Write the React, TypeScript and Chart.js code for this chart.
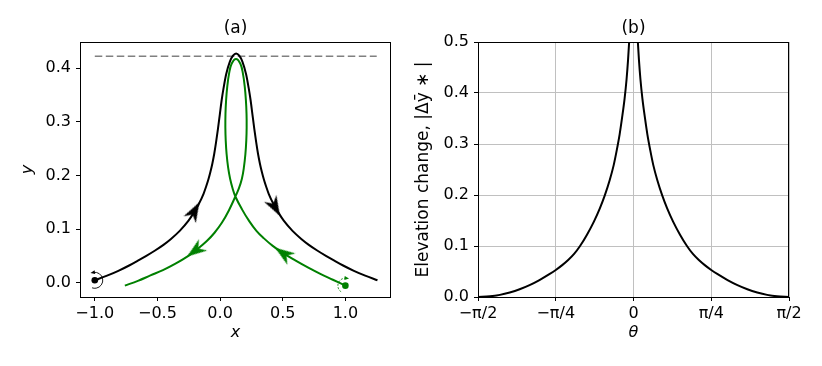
import React, { useEffect, useRef } from "react";
import { Chart, registerables } from "chart.js";

Chart.register(...registerables);

// ---------- Panel (a) data ----------
const blackX = [
  -1.0, -0.902, -0.812, -0.722, -0.652, -0.592, -0.522, -0.452, -0.392, -0.322, -0.252, -0.212, -0.172, -0.132, -0.112, -0.093, -0.077, -0.062, -0.047, -0.032, -0.017, -0.002, 0.013, 0.028, 0.048, 0.078, 0.103, 0.128,
  0.153, 0.178, 0.208, 0.228, 0.243, 0.258, 0.273, 0.288, 0.303, 0.318, 0.333, 0.349, 0.368, 0.388, 0.428, 0.468, 0.508, 0.578, 0.648, 0.708, 0.778, 0.848, 0.908, 0.978, 1.068, 1.158, 1.256,
];
const blackY = [
  0.005, 0.0136, 0.0226, 0.033, 0.042, 0.050, 0.060, 0.071, 0.082, 0.097, 0.116, 0.130, 0.146, 0.166, 0.179, 0.193, 0.207, 0.222, 0.240, 0.262, 0.287, 0.314, 0.341, 0.363, 0.388, 0.412, 0.423, 0.427,
  0.423, 0.412, 0.388, 0.363, 0.341, 0.314, 0.287, 0.262, 0.240, 0.222, 0.207, 0.193, 0.179, 0.166, 0.146, 0.130, 0.116, 0.097, 0.082, 0.071, 0.060, 0.050, 0.042, 0.033, 0.0226, 0.0136, 0.005,
];

const greenX = [
  1.0, 0.90, 0.80, 0.70, 0.60, 0.50, 0.42, 0.35, 0.29, 0.23, 0.175, 0.122,
  0.100, 0.080, 0.064, 0.052, 0.045, 0.042, 0.043, 0.048, 0.057, 0.072, 0.092, 0.127, 0.162, 0.182, 0.197, 0.206, 0.211, 0.212, 0.209, 0.202, 0.190, 0.174, 0.150, 0.122,
  0.07, 0.014, -0.046, -0.106, -0.176, -0.256, -0.356, -0.456, -0.556, -0.656, -0.76,
];
const greenY = [
  -0.005, 0.006, 0.017, 0.029, 0.042, 0.056, 0.069, 0.083, 0.097, 0.116, 0.137, 0.161,
  0.176, 0.194, 0.215, 0.240, 0.265, 0.290, 0.315, 0.340, 0.365, 0.390, 0.408, 0.417, 0.408, 0.390, 0.365, 0.340, 0.315, 0.290, 0.265, 0.240, 0.215, 0.194, 0.176, 0.161,
  0.135, 0.112, 0.093, 0.078, 0.064, 0.050, 0.036, 0.024, 0.014, 0.004, -0.005,
];

const refLineX = [-1.0, 1.25];
const refLineY = [0.422, 0.422];

const blackDotX = [-1.0];
const blackDotY = [0.005];
const greenDotX = [1.0];
const greenDotY = [-0.005];

const blackArrowX = [-0.204, 0.439];
const blackArrowY = [0.134, 0.141];
const greenArrowX = [-0.2, 0.504];
const greenArrowY = [0.060, 0.055];

const xTicksA = [-1.0, -0.5, 0.0, 0.5, 1.0];
const xTickLabelsA = ["\u22121.0", "\u22120.5", "0.0", "0.5", "1.0"];
const yTicksA = [0.0, 0.1, 0.2, 0.3, 0.4];
const yTickLabelsA = ["0.0", "0.1", "0.2", "0.3", "0.4"];

// ---------- Panel (b) data ----------
const thetaB = [
  -1.5708, -1.45, -1.35, -1.25, -1.15, -1.05, -0.95, -0.85, -0.785, -0.72, -0.66, -0.60, -0.54, -0.47, -0.40, -0.34, -0.29, -0.24, -0.20, -0.17, -0.14, -0.115, -0.09, -0.07, -0.055, -0.044, -0.038,
  0.038, 0.044, 0.055, 0.07, 0.09, 0.115, 0.14, 0.17, 0.20, 0.24, 0.29, 0.34, 0.40, 0.47, 0.54, 0.60, 0.66, 0.72, 0.785, 0.85, 0.95, 1.05, 1.15, 1.25, 1.35, 1.45, 1.5708,
];
const elevB = [
  0.0, 0.0013, 0.0042, 0.0089, 0.0152, 0.0233, 0.0332, 0.0447, 0.053, 0.0625, 0.0725, 0.0845, 0.100, 0.1222, 0.1479, 0.1739, 0.1993, 0.2295, 0.2586, 0.287, 0.319, 0.352, 0.389, 0.427, 0.465, 0.500, 0.523,
  0.523, 0.500, 0.465, 0.427, 0.389, 0.352, 0.319, 0.287, 0.2586, 0.2295, 0.1993, 0.1739, 0.1479, 0.1222, 0.100, 0.0845, 0.0725, 0.0625, 0.053, 0.0447, 0.0332, 0.0233, 0.0152, 0.0089, 0.0042, 0.0013, 0.0,
];
const xTicksB = [-Math.PI / 2, -Math.PI / 4, 0, Math.PI / 4, Math.PI / 2];
const xTickLabelsB = ["\u2212\u03c0/2", "\u2212\u03c0/4", "0", "\u03c0/4", "\u03c0/2"];
const yTicksB = [0.0, 0.1, 0.2, 0.3, 0.4, 0.5];
const yTickLabelsB = ["0.0", "0.1", "0.2", "0.3", "0.4", "0.5"];

// ---------- styling ----------
const FAMILY = "'DejaVu Sans', sans-serif";
const tickFont = { family: FAMILY, size: 16 };
const GREEN = "#008000";

const pts = (xs: number[], ys: number[]) => xs.map((x, i) => ({ x, y: ys[i] }));

function makeArrow(color: string) {
  const c = document.createElement("canvas");
  const L = 20, H = 15;
  c.width = L;
  c.height = H;
  const g = c.getContext("2d")!;
  g.fillStyle = color;
  g.beginPath();
  g.moveTo(L, H / 2);
  g.lineTo(0, 0.5);
  g.lineTo(L * 0.3, H / 2);
  g.lineTo(0, H - 0.5);
  g.closePath();
  g.fill();
  return c;
}

const framePlugin = {
  id: "frame",
  afterDraw(chart: any) {
    const { ctx, chartArea } = chart;
    const l = Math.round(chartArea.left), t = Math.round(chartArea.top);
    const r = Math.round(chartArea.right), b = Math.round(chartArea.bottom);
    ctx.save();
    ctx.strokeStyle = "#000";
    ctx.lineWidth = 1;
    ctx.strokeRect(l + 0.5, t + 0.5, r - l - 1, b - t);
    ctx.restore();
  },
};

const DEG = Math.PI / 180;
const spinPlugin = {
  id: "spin",
  afterDatasetsDraw(chart: any, _args: any, opts: any) {
    const items = opts && opts.items;
    if (!items) return;
    const { ctx, scales } = chart;
    for (const s of items) {
      const cx = scales.x.getPixelForValue(s.x) + s.dx;
      const cy = scales.y.getPixelForValue(s.y) + s.dy;
      ctx.save();
      ctx.strokeStyle = s.color;
      ctx.fillStyle = s.color;
      ctx.lineWidth = 0.9;
      if (s.dash) ctx.setLineDash([2, 1.5]);
      ctx.beginPath();
      ctx.arc(cx, cy, s.r, s.a0 * DEG, s.a1 * DEG, false);
      ctx.stroke();
      ctx.setLineDash([]);
      const a = (s.headAtStart ? s.a0 : s.a1) * DEG;
      const px = cx + s.r * Math.cos(a), py = cy + s.r * Math.sin(a);
      let dx = -Math.sin(a), dy = Math.cos(a);
      if (s.headAtStart) { dx = -dx; dy = -dy; }
      const nx = -dy, ny = dx;
      ctx.beginPath();
      ctx.moveTo(px + dx * 3, py + dy * 3);
      ctx.lineTo(px - dx * 1.5 + nx * 2, py - dy * 1.5 + ny * 2);
      ctx.lineTo(px - dx * 1.5 - nx * 2, py - dy * 1.5 - ny * 2);
      ctx.closePath();
      ctx.fill();
      ctx.restore();
    }
  },
};

function xScale(min: number, max: number, ticks: number[], labels: string[], title: string, grid: boolean, titlePad: number) {
  return {
    type: "linear",
    min,
    max,
    afterBuildTicks: (s: any) => { s.ticks = ticks.map((v) => ({ value: v })); },
    afterFit: (s: any) => { s.height = 69; },
    ticks: {
      autoSkip: false,
      maxRotation: 0,
      padding: 3,
      color: "#000",
      font: tickFont,
      callback: (_v: any, i: number) => labels[i],
    },
    grid: {
      display: true,
      drawOnChartArea: grid,
      color: "#c0c0c0",
      lineWidth: 1,
      tickColor: "#000",
      tickLength: 4,
      tickWidth: 1,
    },
    border: { display: false },
    title: {
      display: true,
      text: title,
      color: "#000",
      font: { family: FAMILY, size: 16, style: "italic" },
      padding: { top: 0, bottom: titlePad },
    },
  };
}

function yScale(min: number, max: number, ticks: number[], labels: string[], title: string, italic: boolean, titleSize: number, grid: boolean, width: number, titlePad: number) {
  return {
    type: "linear",
    min,
    max,
    afterBuildTicks: (s: any) => { s.ticks = ticks.map((v) => ({ value: v })); },
    afterFit: (s: any) => { s.width = width; },
    ticks: {
      autoSkip: false,
      padding: 5,
      color: "#000",
      font: tickFont,
      callback: (_v: any, i: number) => labels[i],
    },
    grid: {
      display: true,
      drawOnChartArea: grid,
      color: "#c0c0c0",
      lineWidth: 1,
      tickColor: "#000",
      tickLength: 4,
      tickWidth: 1,
    },
    border: { display: false },
    title: {
      display: true,
      text: title,
      color: "#000",
      font: { family: FAMILY, size: titleSize, style: italic ? "italic" : "normal" },
      padding: { top: titlePad, bottom: 0 },
    },
  };
}

function titleOpts(text: string) {
  return {
    display: true,
    text,
    color: "#000",
    fullSize: false,
    font: { family: FAMILY, size: 17, weight: "normal" },
    padding: { top: 18.8, bottom: 2.8 },
  };
}

export default function App() {
  const refA = useRef<HTMLCanvasElement>(null);
  const refB = useRef<HTMLCanvasElement>(null);

  useEffect(() => {
    const arrowBlack = makeArrow("#000");
    const arrowGreen = makeArrow(GREEN);

    const chartA = new Chart(refA.current as HTMLCanvasElement, {
      type: "line",
      data: {
        datasets: [
          {
            data: pts(refLineX, refLineY),
            showLine: true,
            borderColor: "#808080",
            borderWidth: 1.3,
            borderDash: [7.5, 3.5],
            pointRadius: 0,
            order: 5,
          },
          {
            data: pts(blackX, blackY),
            showLine: true,
            borderColor: "#000",
            borderWidth: 2,
            cubicInterpolationMode: "monotone",
            pointRadius: 0,
            order: 4,
          },
          {
            data: pts(greenX, greenY),
            showLine: true,
            borderColor: GREEN,
            borderWidth: 2,
            tension: 0.4,
            pointRadius: 0,
            order: 3,
          },
          {
            data: pts(blackArrowX, blackArrowY),
            showLine: false,
            pointStyle: arrowBlack as any,
            pointRadius: 6,
            pointRotation: [-61, 61],
            order: 2,
          },
          {
            data: pts(greenArrowX, greenArrowY),
            showLine: false,
            pointStyle: arrowGreen as any,
            pointRadius: 6,
            pointRotation: [144, 215],
            order: 2,
          },
          {
            data: pts(blackDotX, blackDotY),
            showLine: false,
            pointRadius: 3.3,
            pointBackgroundColor: "#000",
            pointBorderWidth: 0,
            order: 1,
          },
          {
            data: pts(greenDotX, greenDotY),
            showLine: false,
            pointRadius: 3.3,
            pointBackgroundColor: GREEN,
            pointBorderWidth: 0,
            order: 1,
          },
        ],
      } as any,
      options: {
        animation: false,
        responsive: true,
        maintainAspectRatio: false,
        layout: { padding: { left: 0, right: 20, top: 0, bottom: 0 } },
        plugins: {
          legend: { display: false },
          tooltip: { enabled: false },
          title: titleOpts("(a)") as any,
          spin: {
            items: [
              { x: blackDotX[0], y: blackDotY[0], dx: 0, dy: 0, r: 8, a0: -100, a1: 110, headAtStart: true, color: "#000", dash: false },
              { x: greenDotX[0], y: greenDotY[0], dx: 0, dy: 0, r: 7.5, a0: 125, a1: 275, headAtStart: false, color: GREEN, dash: true },
            ],
          },
        } as any,
        scales: {
          x: xScale(-1.118, 1.364, xTicksA, xTickLabelsA, "x", false, 23.4) as any,
          y: yScale(-0.0261, 0.4485, yTicksA, yTickLabelsA, "y", true, 16, false, 80, 18.4) as any,
        },
      },
      plugins: [framePlugin, spinPlugin],
    });

    const chartB = new Chart(refB.current as HTMLCanvasElement, {
      type: "line",
      data: {
        datasets: [
          {
            data: pts(thetaB, elevB),
            showLine: true,
            borderColor: "#000",
            borderWidth: 2,
            cubicInterpolationMode: "monotone",
            pointRadius: 0,
            clip: 0,
          },
        ],
      } as any,
      options: {
        animation: false,
        responsive: true,
        maintainAspectRatio: false,
        layout: { padding: { left: 0, right: 33, top: 0, bottom: 0 } },
        plugins: {
          legend: { display: false },
          tooltip: { enabled: false },
          title: titleOpts("(b)") as any,
        } as any,
        scales: {
          x: xScale(-Math.PI / 2, Math.PI / 2, xTicksB, xTickLabelsB, "\u03b8", true, 23.4) as any,
          y: yScale(0, 0.5, yTicksB, yTickLabelsB, "Elevation change, |\u0394\u0233 \u2217 |", false, 17, true, 67, 2.5) as any,
        },
      },
      plugins: [framePlugin],
    });

    return () => {
      chartA.destroy();
      chartB.destroy();
    };
  }, []);

  return (
    <div style={{ position: "absolute", left: 0, top: 0, width: 822, height: 366, background: "#fff", display: "flex" }}>
      <div style={{ position: "relative", width: 411, height: 366 }}>
        <canvas ref={refA} />
      </div>
      <div style={{ position: "relative", width: 411, height: 366 }}>
        <canvas ref={refB} />
      </div>
    </div>
  );
}
